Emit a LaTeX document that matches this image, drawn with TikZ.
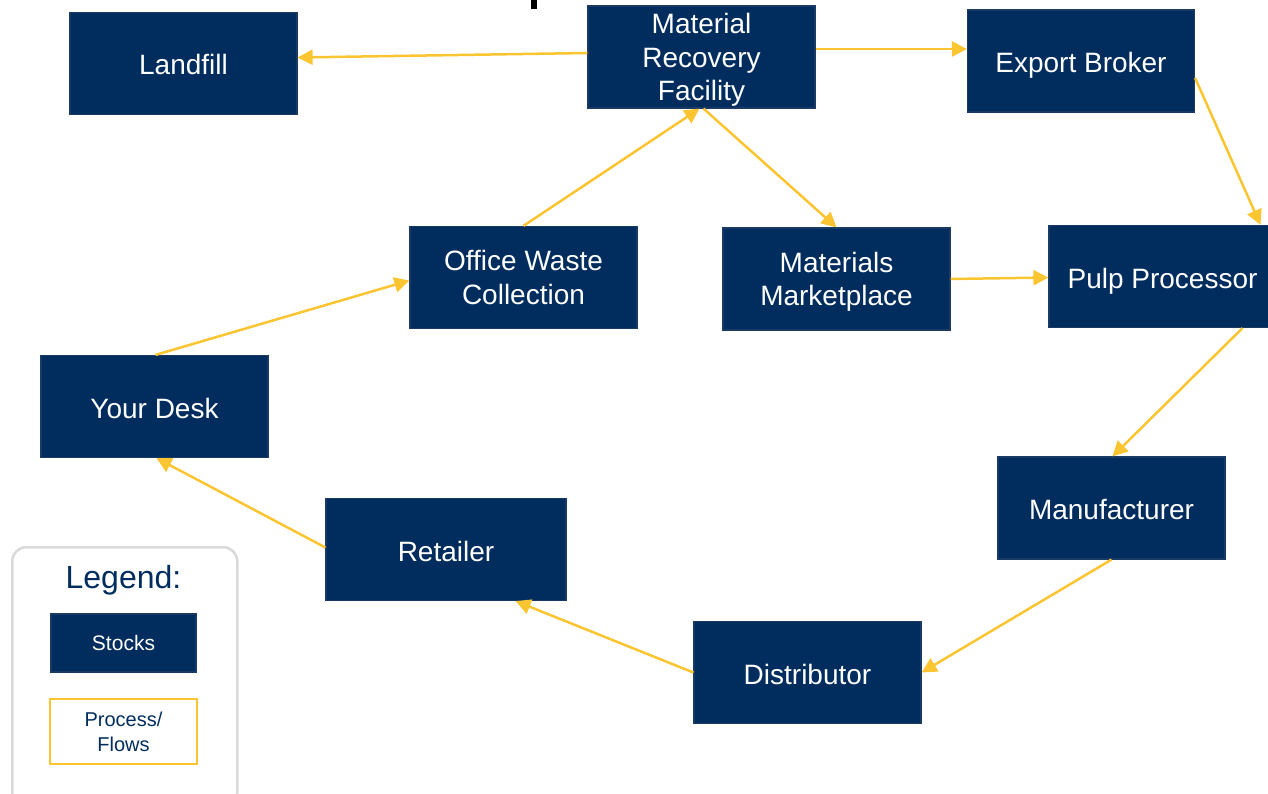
\documentclass[tikz,border=0pt]{standalone}
\usepackage{fontspec}
\setmainfont{Liberation Sans}
\usetikzlibrary{arrows.meta}
\definecolor{navy}{HTML}{002D5E}
\definecolor{navyedge}{HTML}{1A3A66}
\definecolor{gold}{HTML}{FAC531}
\definecolor{lgray}{HTML}{D9D9D9}
\tikzset{
  stock/.style={fill=navy, draw=navyedge, line width=1.2pt, minimum width=227pt, minimum height=102pt,
    text=white, align=center, inner sep=0pt, text depth=0pt, font=\fontsize{28}{33.5}\selectfont},
  oneline/.style={text height=23pt},
  flow/.style={draw=gold, line width=2.5pt, -{Triangle[length=15pt,width=15pt]}},
}
\begin{document}
\begin{tikzpicture}[x=1pt,y=1pt]
\useasboundingbox (0,0) rectangle (1268,-794);
\begin{scope}
\clip (0,0) rectangle (1268,-794);
% cut-off title fragment
\fill[black] (531,0) rectangle (537,-9);
% stocks
\node[stock, oneline] (landfill) at (183.5,-63.5) {Landfill};
\node[stock] (mrf) at (701.5,-57) {Material\\Recovery\\Facility};
\node[stock, oneline] (eb) at (1081,-61) {Export Broker};
\node[stock] (owc) at (523.5,-277.5) {Office Waste\\Collection};
\node[stock] (mm) at (836.5,-279) {Materials\\Marketplace};
\node[stock, oneline] (pp) at (1162.5,-276.5) {Pulp Processor};
\node[stock, oneline] (desk) at (154.5,-406.5) {Your Desk};
\node[stock, oneline] (manu) at (1111.5,-508) {Manufacturer};
\node[stock, oneline, minimum width=240pt] (ret) at (446,-549.5) {Retailer};
\node[stock, oneline] (dist) at (807.5,-672.5) {Distributor};
% flows
\draw[flow] ([yshift=4]mrf.west) -- ([yshift=6]landfill.east);
\draw[flow] ([yshift=8]mrf.east) -- ([yshift=12]eb.west);
\draw[flow] ([yshift=-17]eb.east) -- ([xshift=98]pp.north);
\draw[flow] ([xshift=2]mrf.south) -- (mm.north);
\draw[flow] (owc.north) -- ([xshift=-2]mrf.south);
\draw[flow] ([yshift=0]mm.east) -- ([yshift=-1]pp.west);
\draw[flow] ([xshift=80]pp.south) -- ([xshift=1]manu.north);
\draw[flow] (manu.south) -- (dist.east);
\draw[flow] (dist.west) -- ([xshift=-51]ret.south east);
\draw[flow] ([yshift=2]ret.west) -- ([xshift=2]desk.south);
\draw[flow] ([xshift=1]desk.north) -- ([yshift=-3]owc.west);
% legend
\node[draw=lgray, line width=2.5pt, rounded corners=14pt, minimum width=225pt, minimum height=260pt,
  anchor=north west] (legend) at (11,-546) {};
\node[text=navy, font=\fontsize{32}{36}\selectfont] (legtitle) at (123.5,-580) {Legend:};
\node[fill=navy, draw=navyedge, line width=1.2pt, minimum width=145pt, minimum height=58pt,
  text=white, font=\fontsize{21}{24}\selectfont] (lstock) at (123.5,-643) {Stocks};
\node[fill=white, draw=gold, line width=2pt, minimum width=147pt, minimum height=65pt,
  text=navy, align=center, inner sep=0pt, font=\fontsize{20}{25}\selectfont] (lflow) at (123.5,-731.5) {Process/\\Flows};
\end{scope}
\end{tikzpicture}
\end{document}
